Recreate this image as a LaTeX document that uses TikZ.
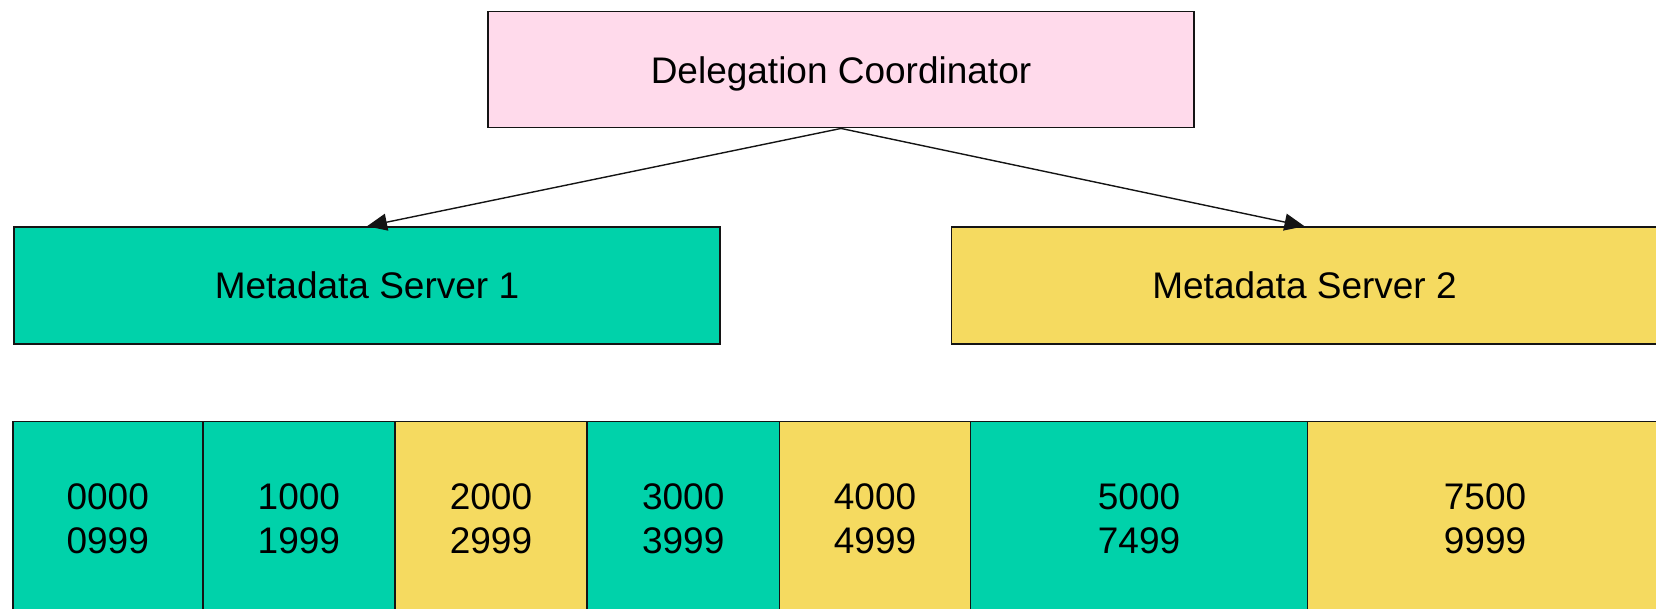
\documentclass[tikz,border=0pt]{standalone}
\usepackage{fontspec}
\setmainfont{Liberation Sans}
\usetikzlibrary{arrows.meta}
\definecolor{srvA}{RGB}{0,210,170}
\definecolor{srvB}{RGB}{245,218,96}
\definecolor{coordpink}{RGB}{255,218,235}
\definecolor{edge}{RGB}{20,20,20}
\tikzset{
  box/.style={draw=edge, line width=1.5pt, rectangle, inner sep=0pt,
    font=\fontsize{37}{44.4}\selectfont, align=center},
  keycell/.style={box, minimum height=194pt},
  link/.style={draw=edge, line width=1.4pt, -{Triangle[length=20pt,width=17pt]}}
}
\begin{document}
\begin{tikzpicture}[x=1pt,y=-1pt]
\useasboundingbox (0,0) rectangle (1656,608);
\clip (0,0) rectangle (1656,608);

% coordinator and the two metadata servers
\node[box, fill=coordpink, minimum width=706pt, minimum height=116pt, text depth=0pt] (coord) at (841,69.7) {Delegation Coordinator};
\node[box, fill=srvA, minimum width=706pt, minimum height=117pt] (ms1) at (367,285.5) {Metadata Server 1};
\node[box, fill=srvB, minimum width=706pt, minimum height=117pt] (ms2) at (1304.5,285.5) {Metadata Server 2};

\draw[link] (coord.south) -- (ms1.north);
\draw[link] (coord.south) -- (ms2.north);

% key ranges owned by each server
\node[keycell, fill=srvA, minimum width=190pt] (r0) at (107.75,518.6) {0000\\0999};
\node[keycell, fill=srvA, minimum width=192.2pt] (r1) at (298.9,518.6) {1000\\1999};
\node[keycell, fill=srvB, minimum width=192pt] (r2) at (491,518.6) {2000\\2999};
\node[keycell, fill=srvA, minimum width=192.4pt] (r3) at (683.2,518.6) {3000\\3999};
\node[keycell, fill=srvB, minimum width=191.2pt] (r4) at (875,518.6) {4000\\4999};
\node[keycell, fill=srvA, minimum width=336.9pt] (r5) at (1139.05,518.6) {5000\\7499};
\node[keycell, fill=srvB, minimum width=355pt] (r6) at (1485,518.6) {7500\\9999};
\end{tikzpicture}
\end{document}
